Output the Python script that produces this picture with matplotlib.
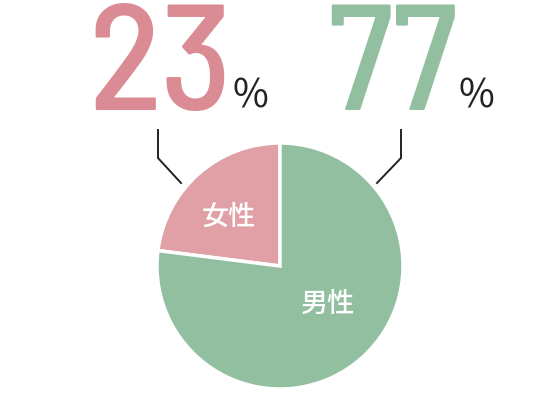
import matplotlib
matplotlib.use("Agg")
import matplotlib.pyplot as plt

categories = ["女性", "男性"]
values = [23, 77]
pie_colors = ["#E0A0A5", "#92BFA0"]
number_colors = ["#DB8B94", "#92BFA0"]

num_font = ["Barlow Semi Condensed", "DejaVu Sans"]
cjk = ["Noto Sans CJK JP", "DejaVu Sans"]

W, H = 552, 400
fig = plt.figure(figsize=(W / 100, H / 100), dpi=100)
ax = fig.add_axes([0, 0, 1, 1])

def Y(y):
    return H - y

cx, cy, r = 280, Y(266), 123
wedges, _ = ax.pie(values, colors=pie_colors, startangle=90, counterclock=True,
                   center=(cx, cy), radius=r,
                   wedgeprops=dict(edgecolor="white", linewidth=2.5))

# labels inside wedges
ax.text(229, Y(217), categories[0], color="white", fontsize=19.5, family=cjk,
        weight=500, ha="center", va="center")
ax.text(327, Y(304), categories[1], color="white", fontsize=19.5, family=cjk,
        weight=500, ha="center", va="center")

# big numbers
ax.text(88, Y(110), f"{values[0]}", color=number_colors[0], fontsize=109,
        family=num_font, weight=500, ha="left", va="baseline")
ax.text(327, Y(110), f"{values[1]}", color=number_colors[1], fontsize=109,
        family=num_font, weight=500, ha="left", va="baseline")
ax.text(250, Y(107), "%", color="#222222", fontsize=28, family=cjk,
        ha="center", va="baseline")
ax.text(476, Y(107), "%", color="#222222", fontsize=28, family=cjk,
        ha="center", va="baseline")

# leader lines
ax.plot([158, 158, 181], [Y(130), Y(158), Y(183)], color="#222222", lw=1.4,
        solid_joinstyle="miter")
ax.plot([401, 401, 377], [Y(130), Y(158), Y(183)], color="#222222", lw=1.4,
        solid_joinstyle="miter")

ax.set_xlim(0, W)
ax.set_ylim(0, H)
ax.set_aspect("auto")
ax.axis("off")
fig.savefig("out.png", dpi=100)
